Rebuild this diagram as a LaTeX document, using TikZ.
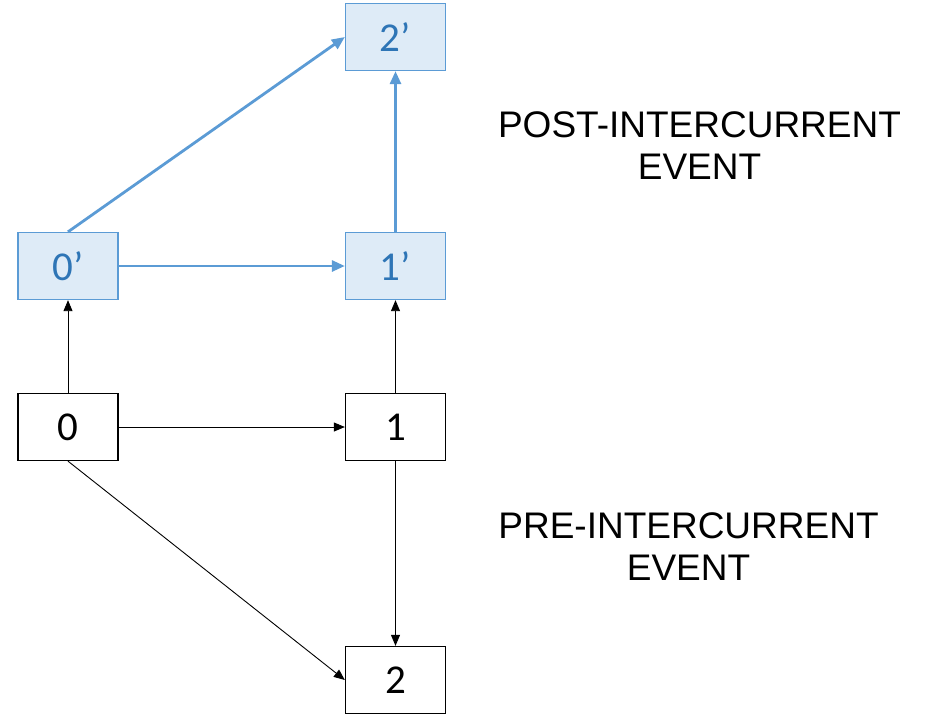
\documentclass[tikz,border=0pt]{standalone}
\usepackage{fontspec}
\setmainfont{Liberation Sans}
\newfontfamily\boxfont{Carlito}
\usetikzlibrary{arrows.meta}
\definecolor{postline}{RGB}{91,155,213}
\definecolor{postfill}{RGB}{222,235,247}
\definecolor{posttext}{RGB}{46,117,182}
\tikzset{
  prebox/.style={draw=black, line width=1.3pt, fill=white, minimum width=100pt, minimum height=67pt,
    inner sep=0pt, font=\boxfont\fontsize{41}{41}\selectfont},
  postbox/.style={prebox, draw=postline, fill=postfill, text=posttext},
  prearrow/.style={draw=black, line width=0.9pt, -{Triangle[length=11pt,width=9pt]}},
  postarrow/.style={draw=postline, line width=2.8pt, -{Triangle[length=13pt,width=11pt]}},
  sidelabel/.style={align=center, font=\fontsize{37}{42}\selectfont, inner sep=0pt}
}
\begin{document}
\begin{tikzpicture}[x=1pt, y=-1pt]
  \useasboundingbox (0,0) rectangle (926,716);
  % pre-intercurrent states
  \node[prebox] (n0) at (68,427) {0};
  \node[prebox] (n1) at (395.5,427) {1};
  \node[prebox] (n2) at (395.5,680) {2};
  % post-intercurrent states
  \node[postbox] (p0) at (68,266) {0’};
  \node[postbox] (p1) at (395.5,266) {1’};
  \node[postbox] (p2) at (395.5,37) {2’};
  % transitions before the event
  \draw[prearrow] (n0.east) -- (n1.west);
  \draw[prearrow] (n1.south) -- (n2.north);
  \draw[prearrow] (n0.south) -- (n2.west);
  \draw[prearrow] (n0.north) -- (p0.south);
  \draw[prearrow] (n1.north) -- (p1.south);
  % transitions after the event
  \draw[postarrow] (p0.east) -- (p1.west);
  \draw[postarrow] (p1.north) -- (p2.south);
  \draw[postarrow] (p0.north) -- (p2.west);
  % phase labels
  \node[sidelabel] (postlbl) at (699.5,146) {POST-INTERCURRENT\\EVENT};
  \node[sidelabel] (prelbl) at (688.5,547) {PRE-INTERCURRENT\\EVENT};
\end{tikzpicture}
\end{document}
